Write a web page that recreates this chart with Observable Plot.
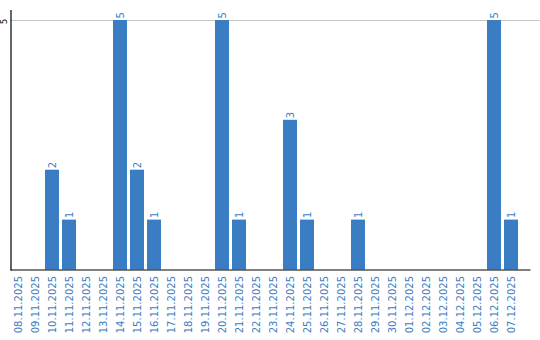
<!DOCTYPE html>
<html>
<head>
<meta charset="utf-8">
<script src="https://cdn.jsdelivr.net/npm/d3@7"></script>
<script src="https://cdn.jsdelivr.net/npm/@observablehq/plot@0.6"></script>
<style>
  html, body { margin: 0; padding: 0; background: #fff; }
  svg { display: block; }
</style>
</head>
<body>
<div id="chart"></div>
<script>
const dates = [
  "08.11.2025","09.11.2025","10.11.2025","11.11.2025","12.11.2025","13.11.2025",
  "14.11.2025","15.11.2025","16.11.2025","17.11.2025","18.11.2025","19.11.2025",
  "20.11.2025","21.11.2025","22.11.2025","23.11.2025","24.11.2025","25.11.2025",
  "26.11.2025","27.11.2025","28.11.2025","29.11.2025","30.11.2025","01.12.2025",
  "02.12.2025","03.12.2025","04.12.2025","05.12.2025","06.12.2025","07.12.2025"
];
const counts = [
  0, 0, 2, 1, 0, 0,
  5, 2, 1, 0, 0, 0,
  5, 1, 0, 0, 3, 1,
  0, 0, 1, 0, 0, 0,
  0, 0, 0, 0, 5, 1
];
const yTicks = [5];

const BLUE = "#3b7dc3";
const data = dates.map((d, i) => ({date: d, value: counts[i]}));
const nonzero = data.filter(d => d.value > 0);

const chart = Plot.plot({
  width: 540,
  height: 340,
  marginLeft: 10.5,
  marginRight: 0,
  marginTop: 10,
  marginBottom: 70.5,
  style: {fontFamily: "DejaVu Sans", background: "#fff"},
  x: {type: "band", domain: dates, range: [9.5, 519.5], paddingInner: 0.18, paddingOuter: 0.09, axis: null},
  y: {domain: [0, 5], range: [269.5, 20], axis: null},
  marks: [
    Plot.ruleY(yTicks, {stroke: "#c8c8c8", strokeWidth: 1}),
    Plot.barY(data, {x: "date", y: "value", fill: BLUE}),
    Plot.ruleY([0], {stroke: "#000", strokeWidth: 1.2, insetRight: 9.5}),
    Plot.frame({anchor: "left", stroke: "#000", strokeWidth: 1.2}),
    Plot.text(nonzero, {x: "date", y: "value", text: d => String(d.value), rotate: -90, textAnchor: "start", lineAnchor: "middle", dy: -2, fill: BLUE, fontSize: 10}),
    Plot.text(dates, {x: d => d, frameAnchor: "bottom", text: d => d, rotate: -90, textAnchor: "end", lineAnchor: "middle", dy: 6, fill: BLUE, fontSize: 10}),
    Plot.text(yTicks, {y: d => d, frameAnchor: "left", text: d => String(d), rotate: -90, textAnchor: "middle", lineAnchor: "middle", dx: -6.5, dy: 1, fill: "#000", fontSize: 8})
  ]
});
document.getElementById("chart").appendChild(chart);
</script>
</body>
</html>
